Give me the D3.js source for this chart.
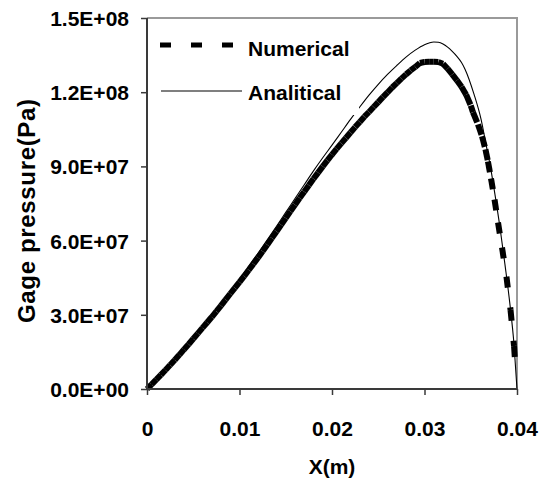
<!DOCTYPE html>
<html>
<head>
<meta charset="utf-8">
<script src="https://cdn.jsdelivr.net/npm/d3@7"></script>
<style>
  html, body { margin: 0; padding: 0; background: #fff; }
  svg { display: block; }
  text { font-family: "Liberation Sans", Arial, sans-serif; font-weight: bold; fill: #000; }
</style>
</head>
<body>
<svg id="chart" width="551" height="488"></svg>
<script>
// Numerical solution: position along the gap (m) and gage pressure (Pa)
const numX = [0, 0.0005, 0.001, 0.0015, 0.002, 0.0025, 0.003, 0.0035, 0.004, 0.0045,
  0.005, 0.0055, 0.006, 0.0065, 0.007, 0.0075, 0.008, 0.0085, 0.009, 0.0095,
  0.010, 0.0105, 0.011, 0.0115, 0.012, 0.0125, 0.013, 0.0135, 0.014, 0.0145,
  0.015, 0.0155, 0.016, 0.0165, 0.017, 0.0175, 0.018, 0.0185, 0.019, 0.0195,
  0.020, 0.0205, 0.021, 0.0215, 0.022, 0.0225, 0.023, 0.0235, 0.024, 0.0245,
  0.025, 0.0255, 0.026, 0.0265, 0.027, 0.0275, 0.028, 0.0285, 0.029, 0.0295,
  0.030, 0.0305, 0.031, 0.0315, 0.032, 0.0325, 0.033, 0.0335, 0.034, 0.0345,
  0.035, 0.03524, 0.03578, 0.03622, 0.03659, 0.03686, 0.03719, 0.03757, 0.03795,
  0.03838, 0.03886, 0.03930, 0.03968, 0.03984];
const numP = [0, 0.19e7, 0.38e7, 0.57e7, 0.77e7, 0.97e7, 1.17e7, 1.38e7, 1.60e7, 1.81e7,
  2.03e7, 2.25e7, 2.47e7, 2.69e7, 2.91e7, 3.14e7, 3.37e7, 3.61e7, 3.85e7, 4.09e7,
  4.32e7, 4.56e7, 4.81e7, 5.06e7, 5.31e7, 5.57e7, 5.83e7, 6.10e7, 6.37e7, 6.64e7,
  6.91e7, 7.18e7, 7.45e7, 7.72e7, 7.98e7, 8.24e7, 8.50e7, 8.75e7, 9.00e7, 9.24e7,
  9.48e7, 9.71e7, 9.93e7, 10.15e7, 10.37e7, 10.59e7, 10.80e7, 11.01e7, 11.20e7, 11.40e7,
  11.60e7, 11.80e7, 11.99e7, 12.19e7, 12.37e7, 12.55e7, 12.72e7, 12.88e7, 13.02e7, 13.18e7,
  13.22e7, 13.23e7, 13.23e7, 13.22e7, 13.15e7, 12.95e7, 12.72e7, 12.48e7, 12.22e7, 11.90e7,
  11.46e7, 11.19e7, 10.70e7, 10.22e7, 9.69e7, 9.20e7, 8.51e7, 7.66e7, 6.73e7,
  5.72e7, 4.54e7, 3.20e7, 1.74e7, 0.85e7];

// Analytical solution
const anaX = [0, 0.001, 0.002, 0.003, 0.004, 0.005, 0.006, 0.007, 0.008, 0.009,
  0.010, 0.011, 0.012, 0.013, 0.014, 0.015, 0.016, 0.017, 0.018, 0.019,
  0.020, 0.021, 0.022, 0.023, 0.024, 0.025, 0.026, 0.027, 0.028, 0.029,
  0.030, 0.0305, 0.031, 0.0315, 0.032, 0.0325, 0.033, 0.0335, 0.034, 0.03438,
  0.03535, 0.03611, 0.03665, 0.03708, 0.03762, 0.03816, 0.03870, 0.03924, 0.03968, 0.040];
const anaP = [0, 0.40e7, 0.81e7, 1.22e7, 1.64e7, 2.07e7, 2.52e7, 2.98e7, 3.45e7, 3.94e7,
  4.44e7, 4.96e7, 5.49e7, 6.03e7, 6.58e7, 7.14e7, 7.70e7, 8.26e7, 8.82e7, 9.35e7,
  9.86e7, 10.38e7, 10.90e7, 11.40e7, 11.88e7, 12.32e7, 12.72e7, 13.08e7, 13.42e7, 13.70e7,
  13.92e7, 13.99e7, 14.03e7, 14.02e7, 13.95e7, 13.82e7, 13.65e7, 13.45e7, 13.20e7, 12.93e7,
  11.92e7, 10.91e7, 9.89e7, 9.08e7, 7.86e7, 6.53e7, 5.03e7, 3.41e7, 1.78e7, 0];

const xTicks = [0, 0.01, 0.02, 0.03, 0.04];
const xTickLabels = ["0", "0.01", "0.02", "0.03", "0.04"];
const yTicks = [0, 3e7, 6e7, 9e7, 1.2e8, 1.5e8];
const yTickLabels = ["0.0E+00", "3.0E+07", "6.0E+07", "9.0E+07", "1.2E+08", "1.5E+08"];
const seriesNames = ["Numerical", "Analitical"];

const svg = d3.select("#chart");
const plotL = 147, plotR = 517, plotT = 18, plotB = 389;

const x = d3.scaleLinear().domain([0, 0.04]).range([plotL, plotR]);
const y = d3.scaleLinear().domain([0, 1.5e8]).range([plotB, plotT]);

// plot area frame (top and right edges)
svg.append("path")
  .attr("d", `M${plotL},${plotT}H${plotR}V${plotB}`)
  .attr("fill", "none").attr("stroke", "#9a9a9a").attr("stroke-width", 2);

const numData = numX.map((v, i) => [v, numP[i]]);
const anaData = anaX.map((v, i) => [v, anaP[i]]);

// analytical curve: thin solid line
svg.append("path")
  .datum(anaData)
  .attr("fill", "none").attr("stroke", "#000").attr("stroke-width", 1.1)
  .attr("d", d3.line().x(d => x(d[0])).y(d => y(d[1])).curve(d3.curveMonotoneX));

// numerical curve: heavy dashed line, dash pattern restarting on each segment
const seg = svg.append("g");
for (let i = 0; i < numData.length - 1; i++) {
  const a = numData[i], b = numData[i + 1];
  seg.append("path")
    .attr("d", `M${x(a[0])},${y(a[1])}L${x(b[0])},${y(b[1])}`)
    .attr("fill", "none").attr("stroke", "#000").attr("stroke-width", 6)
    .attr("stroke-dasharray", "11,20");
}

// axes
const xAxis = d3.axisBottom(x).tickValues(xTicks).tickSize(6).tickFormat((d, i) => xTickLabels[i]);
const yAxis = d3.axisLeft(y).tickValues(yTicks).tickSize(6).tickFormat((d, i) => yTickLabels[i]);

const gx = svg.append("g").attr("transform", `translate(0,${plotB})`).call(xAxis);
const gy = svg.append("g").attr("transform", `translate(${plotL},0)`).call(yAxis);
[gx, gy].forEach(g => {
  g.select(".domain").attr("stroke", "#3a3a3a").attr("stroke-width", 2);
  g.selectAll(".tick line").attr("stroke", "#3a3a3a").attr("stroke-width", 1.5);
  g.selectAll(".tick text").attr("font-size", 21).attr("font-family", "Liberation Sans, Arial, sans-serif")
    .attr("font-weight", "bold").attr("fill", "#000");
});
gy.select(".domain").attr("d", `M0,${plotT}V${plotB}`);
gx.select(".domain").attr("d", `M${plotL},0H${plotR}`);
gx.selectAll(".tick text").attr("dy", null).attr("y", 47);
gy.selectAll(".tick text").attr("x", -18).attr("dy", "0.36em");

// axis titles
svg.append("text").attr("x", (plotL + plotR) / 2).attr("y", 474)
  .attr("text-anchor", "middle").attr("font-size", 21).text("X(m)");
svg.append("text")
  .attr("transform", `translate(35,211) rotate(-90)`)
  .attr("text-anchor", "middle").attr("font-size", 24)
  .attr("textLength", 224).attr("lengthAdjust", "spacing")
  .text("Gage pressure(Pa)");

// legend
svg.append("rect").attr("x", 150).attr("y", 22).attr("width", 209).attr("height", 93).attr("fill", "#fff");
svg.append("line").attr("x1", 160).attr("x2", 235).attr("y1", 45).attr("y2", 45)
  .attr("stroke", "#000").attr("stroke-width", 5).attr("stroke-dasharray", "11,20");
svg.append("line").attr("x1", 161).attr("x2", 242).attr("y1", 91).attr("y2", 91)
  .attr("stroke", "#000").attr("stroke-width", 1.1);
svg.append("text").attr("x", 248).attr("y", 56).attr("font-size", 21).text(seriesNames[0]);
svg.append("text").attr("x", 248).attr("y", 100).attr("font-size", 21).text(seriesNames[1]);
</script>
</body>
</html>
